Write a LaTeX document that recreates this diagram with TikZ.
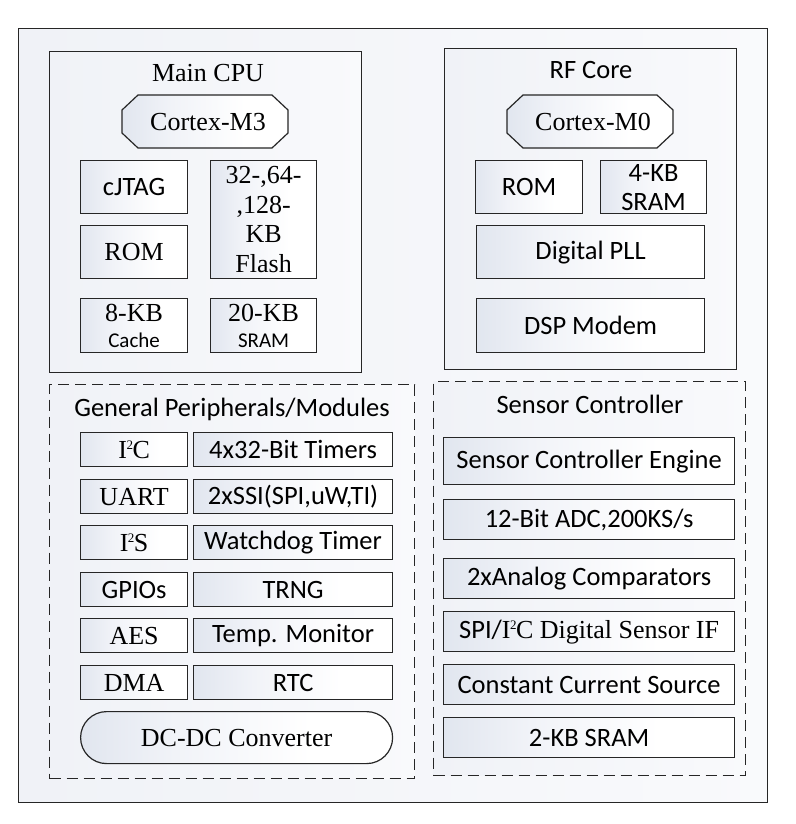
\documentclass[tikz,border=0pt]{standalone}
\usepackage{fontspec}
\setmainfont{Liberation Serif}
\newfontfamily\sansf{Carlito}
\definecolor{lineC}{HTML}{262626}
\definecolor{shA}{HTML}{E1E6EF}
\definecolor{shB}{HTML}{F1F3F8}
\definecolor{shO}{HTML}{F0F2F7}
\pgfdeclarehorizontalshading{boxshade}{100bp}{color(0bp)=(shA); color(25bp)=(shA); color(40bp)=(shB); color(62bp)=(white); color(100bp)=(white)}
\pgfdeclarehorizontalshading{outershade}{100bp}{color(0bp)=(shO); color(25bp)=(shO); color(75bp)=(white!60!shO); color(100bp)=(white!60!shO)}
\newcommand\suptwo{\kern-0.5pt\raisebox{8.5pt}{\fontsize{13}{13}\selectfont 2}\kern-0.5pt}
\tikzset{
  frame/.style={draw=lineC, line width=1.2pt, shading=outershade, inner sep=0pt, anchor=north west},
  cont/.style={draw=lineC, line width=1.2pt, shading=outershade, inner sep=0pt, anchor=north west},
  dcont/.style={cont, dash pattern=on 11pt off 6pt},
  blk/.style={draw=lineC, line width=1.2pt, shading=boxshade, inner sep=0pt, anchor=north west, align=center},
  sf/.style={font=\sansf\fontsize{26.5}{29}\selectfont},
  rm/.style={font=\fontsize{26}{29}\selectfont},
  ttl/.style={anchor=base, inner sep=0pt},
}
\begin{document}
\begin{tikzpicture}[x=1pt,y=-1pt]
\useasboundingbox[fill=white] (0,0) rectangle (795,824);
% outer frame
\node[frame, minimum width=749pt, minimum height=774pt] (outer) at (18,28) {};
% containers
\node[cont, minimum width=312pt, minimum height=321pt] (cpu) at (49,51) {};
\node[cont, minimum width=292pt, minimum height=321pt] (rf) at (444,48) {};
\node[dcont, minimum width=365pt, minimum height=394pt] (gp) at (49,384) {};
\node[dcont, minimum width=312pt, minimum height=394pt] (sc) at (433,381) {};
% titles
\node[ttl, rm] (cpuT) at (208,82) {Main CPU};
\node[ttl, sf] (rfT) at (591,79) {RF Core};
\node[ttl, sf] (gpT) at (232,416) {General Peripherals/Modules};
\node[ttl, sf] (scT) at (590,413) {Sensor Controller};
% Cortex octagons
\draw[draw=lineC, line width=1.2pt, shading=boxshade]
  (138,95) -- (272,95) -- (288,110) -- (288,133) -- (272,148) -- (138,148) -- (122,133) -- (122,110) -- cycle;
\node[rm, inner sep=0pt] (m3) at (208,122) {Cortex-M3};
\draw[draw=lineC, line width=1.2pt, shading=boxshade]
  (523,95) -- (657,95) -- (673,110) -- (673,133) -- (657,148) -- (523,148) -- (507,133) -- (507,110) -- cycle;
\node[rm, inner sep=0pt] (m0) at (593,122) {Cortex-M0};
% Main CPU blocks
\node[blk, sf, minimum width=107pt, minimum height=53pt] (jtag) at (80,160) {cJTAG};
\node[blk, rm, minimum width=107pt, minimum height=53pt] (rom) at (80,225) {ROM};
\node[blk, rm, minimum width=106pt, minimum height=118pt, font=\fontsize{26}{29.5}\selectfont] (flash) at (210,160) {32-,64-\\,128-\\KB\\Flash};
\node[blk, minimum width=107pt, minimum height=54pt, font=\fontsize{26}{26}\selectfont] (cache) at (80,298) {8-KB\\{\sansf\fontsize{21}{26}\selectfont Cache}};
\node[blk, minimum width=106pt, minimum height=54pt, font=\fontsize{26}{26}\selectfont] (sram20) at (210,298) {20-KB\\{\sansf\fontsize{21}{26}\selectfont SRAM}};
% RF Core blocks
\node[blk, sf, minimum width=107pt, minimum height=53pt] (rom2) at (475,160) {ROM};
\node[blk, sf, minimum width=106pt, minimum height=53pt] (sram4) at (600,160) {4-KB\\SRAM};
\node[blk, sf, minimum width=228pt, minimum height=53pt] (pll) at (476,225) {Digital PLL};
\node[blk, sf, minimum width=228pt, minimum height=54pt] (dsp) at (476,298) {DSP Modem};
% General peripherals
\node[blk, rm, minimum width=107pt, minimum height=34pt] (i2c) at (80,432) {I\suptwo C};
\node[blk, sf, minimum width=199pt, minimum height=34pt] (tmr) at (193,432) {4x32-Bit Timers};
\node[blk, rm, minimum width=107pt, minimum height=34pt] (uart) at (80,479) {UART};
\node[blk, sf, minimum width=199pt, minimum height=34pt] (ssi) at (193,479) {2xSSI(SPI,uW,TI)};
\node[blk, rm, minimum width=107pt, minimum height=34pt] (i2s) at (80,525) {I\suptwo S};
\node[blk, sf, minimum width=199pt, minimum height=34pt] (wdt) at (193,525) {Watchdog Timer};
\node[blk, sf, minimum width=107pt, minimum height=34pt] (gpio) at (80,572) {GPIOs};
\node[blk, sf, minimum width=199pt, minimum height=34pt] (trng) at (193,572) {TRNG};
\node[blk, rm, minimum width=107pt, minimum height=34pt] (aes) at (80,618) {AES};
\node[blk, sf, minimum width=199pt, minimum height=34pt] (temp) at (193,618) {Temp. Monitor};
\node[blk, rm, minimum width=107pt, minimum height=34pt] (dma) at (80,665) {DMA};
\node[blk, sf, minimum width=199pt, minimum height=34pt] (rtc) at (193,665) {RTC};
\node[blk, rm, minimum width=312pt, minimum height=52pt, rounded corners=26pt] (dcdc) at (80,711) {DC-DC Converter};
% Sensor controller
\node[blk, sf, minimum width=291pt, minimum height=47pt] (sce) at (443,437) {Sensor Controller Engine};
\node[blk, sf, minimum width=291pt, minimum height=40pt] (adc) at (443,499) {12-Bit ADC,200KS/s};
\node[blk, sf, minimum width=291pt, minimum height=40pt] (comp) at (443,558) {2xAnalog Comparators};
\node[blk, rm, minimum width=291pt, minimum height=40pt] (spi) at (443,611) {{\sansf\fontsize{26.5}{29}\selectfont SPI/}I\suptwo C Digital Sensor IF};
\node[blk, sf, minimum width=291pt, minimum height=40pt] (ccs) at (443,664) {Constant Current Source};
\node[blk, sf, minimum width=291pt, minimum height=40pt] (sram2) at (443,717) {2-KB SRAM};
\end{tikzpicture}
\end{document}
